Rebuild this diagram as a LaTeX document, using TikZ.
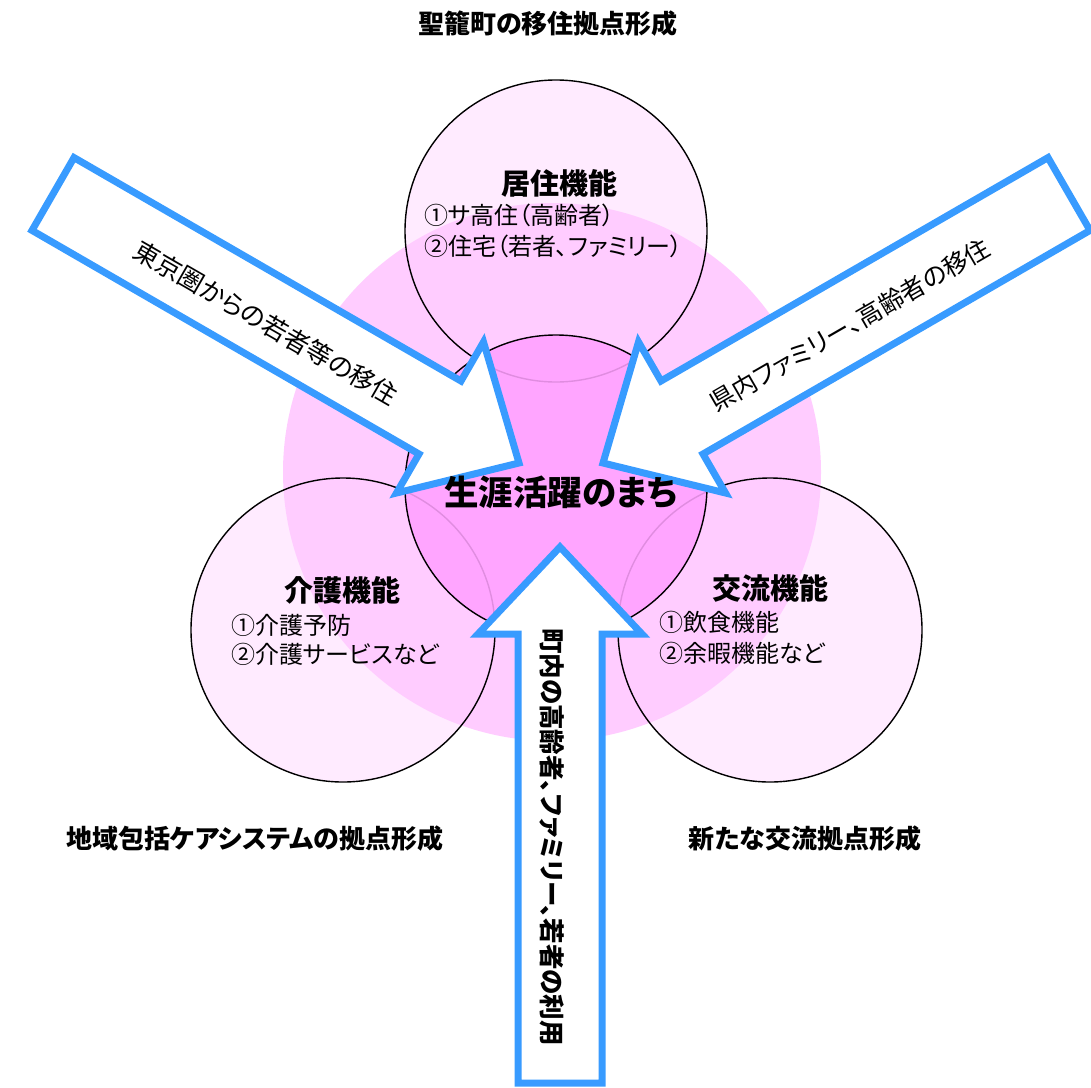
\documentclass[tikz,border=0pt]{standalone}
\usepackage{fontspec}
\newfontfamily\jp[RawFeature=+palt]{Noto Sans CJK JP}
\newcommand{\jpsize}[1]{\fontsize{#1}{#1}\selectfont}
\definecolor{pinkbg}{RGB}{255,204,255}
\definecolor{pinkmid}{RGB}{255,160,255}
\definecolor{arrowblue}{RGB}{56,155,255}
\tikzset{
  bigdisk/.style={fill=pinkbg},
  funcdisk/.style={fill=pinkbg, fill opacity=0.4, draw=black, line width=1.4pt},
  coredisk/.style={fill=pinkmid, fill opacity=0.88, draw=black, line width=1.4pt},
  bluearrow/.style={draw=arrowblue, fill=white, line width=7pt, line join=miter},
  jptxt/.style={inner sep=0pt, text=black},
  heading/.style={jptxt, font=\jp\bfseries\jpsize{29}},
  item/.style={jptxt, anchor=west, font=\jp\jpsize{24}},
  label/.style={jptxt, font=\jp\bfseries\jpsize{26}},
  arrowtxt/.style={jptxt, font=\jp\jpsize{25}}
}
\begin{document}
\begin{tikzpicture}[x=1pt,y=-1pt]
\useasboundingbox (0,0) rectangle (1091,1087);

% background disk
\path[bigdisk] (552,472) circle[radius=269];

% function circles
\path[funcdisk] (556,231) circle[radius=151];
\path[funcdisk] (343,630) circle[radius=152];
\path[funcdisk] (770,630) circle[radius=152];

% core circle
\path[coredisk] (556,486) circle[radius=151];

% arrows
\path[bluearrow] (74,157.6) -- (461,381) -- (483.5,342) -- (519,463)
  -- (396.5,493) -- (419,454) -- (32,230.4) -- cycle;
\path[bluearrow] (1048,157.6) -- (661,381) -- (638.5,342) -- (603,463)
  -- (725.5,493) -- (703,454) -- (1090,230.4) -- cycle;
\path[bluearrow] (518,1083) -- (518,634) -- (478,634) -- (560,547)
  -- (642,634) -- (602,634) -- (602,1083) -- cycle;

% texts
\node[label] (title) at (548,24) {聖籠町の移住拠点形成};

\node[heading] (kyoju) at (559,183) {居住機能};
\node[item] (kyoju1) at (424,215) {①サ高住（高齢者）};
\node[item] (kyoju2) at (424,246) {②住宅（若者、ファミリー）};

\node[heading] (kaigo) at (342,590) {介護機能};
\node[item] (kaigo1) at (231,625) {①介護予防};
\node[item] (kaigo2) at (231,654) {②介護サービスなど};

\node[heading] (koryu) at (770,588) {交流機能};
\node[item] (koryu1) at (659,622) {①飲食機能};
\node[item] (koryu2) at (659,653) {②余暇機能など};

\node[jptxt, font=\jp\bfseries\jpsize{34.5}] (core) at (561,492) {生涯活躍のまち};

\node[label] (carelabel) at (255,839) {地域包括ケアシステムの拠点形成};
\node[label] (exlabel) at (805,839) {新たな交流拠点形成};

\node[arrowtxt, font=\jp\jpsize{25.5}, rotate=-30] (ltxt) at (266,323) {東京圏からの若者等の移住};
\node[arrowtxt, rotate=30] (rtxt) at (850,325) {県内ファミリー、高齢者の移住};
\node[arrowtxt, font=\jp\bfseries\jpsize{25.5}, rotate=-90] (btxt) at (552,837) {町内の高齢者、ファミリー、若者の利用};
\end{tikzpicture}
\end{document}
